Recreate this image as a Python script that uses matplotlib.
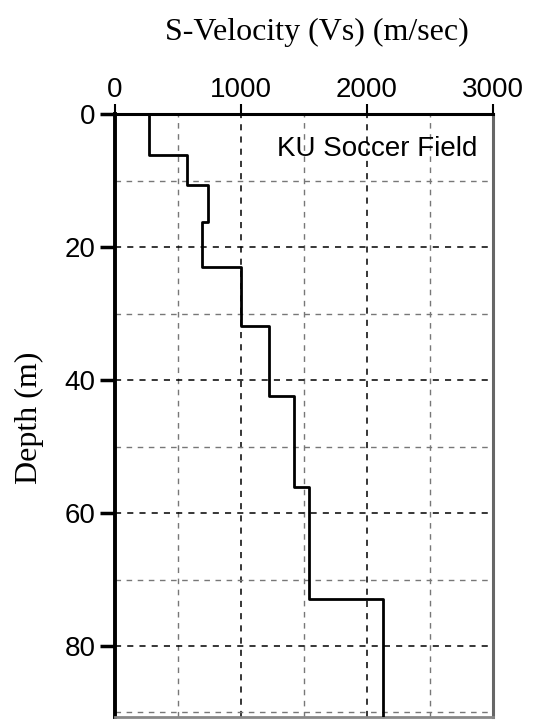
import numpy as np
import matplotlib
matplotlib.use("Agg")
import matplotlib.pyplot as plt
from matplotlib.ticker import MultipleLocator

# layer tops (m) and shear-wave velocity of each layer (m/sec)
layer_top = [0, 6.2, 10.7, 16.2, 23.0, 31.9, 42.4, 56.1, 72.9]
vs = [270, 570, 740, 690, 1000, 1220, 1420, 1540, 2130]
max_depth = 90.7

# step profile built from the layers
depth = []
vel = []
for i, v in enumerate(vs):
    bot = layer_top[i + 1] if i + 1 < len(layer_top) else max_depth
    depth += [layer_top[i], bot]
    vel += [v, v]

fig = plt.figure(figsize=(5.58, 7.2), dpi=100)
ax = fig.add_axes([0.206, 0.004, 0.6775, 0.8375])

ax.plot(vel, depth, color="black", lw=2.0, zorder=3)

ax.set_xlim(0, 3000)
ax.set_ylim(max_depth, 0)
ax.xaxis.tick_top()
ax.xaxis.set_major_locator(MultipleLocator(1000))
ax.xaxis.set_minor_locator(MultipleLocator(500))
ax.yaxis.set_major_locator(MultipleLocator(20))
ax.yaxis.set_minor_locator(MultipleLocator(10))

ax.grid(which="major", color="black", ls=(0, (4, 4)), lw=1.1)
ax.grid(which="minor", color="#777777", ls=(0, (4, 4)), lw=1.0)

ax.tick_params(axis="x", which="major", direction="out", length=7, width=1.5,
               labelsize=20, pad=1)
ax.tick_params(axis="y", which="major", direction="out", length=11, width=2.5,
               labelsize=20, pad=3)
ax.tick_params(which="minor", length=0)
for lab in ax.get_xticklabels() + ax.get_yticklabels():
    lab.set_fontfamily("Liberation Sans")

ax.spines["left"].set_linewidth(2.8)
ax.spines["top"].set_linewidth(2.2)
ax.spines["right"].set_linewidth(2.2)
ax.spines["right"].set_color("#666666")
ax.spines["bottom"].set_linewidth(2.0)
ax.spines["bottom"].set_color("#888888")

fig.text(0.568, 1 - 32 / 720, "S-Velocity (Vs) (m/sec)", family="Liberation Serif",
         fontsize=23, ha="center", va="center")
fig.text(29 / 558, 0.42, "Depth (m)", family="Liberation Serif", fontsize=23,
         rotation=90, ha="center", va="center")

ax.text(0.96, 0.963, "KU Soccer Field", transform=ax.transAxes, ha="right",
        va="top", family="Liberation Sans", fontsize=20)

fig.savefig("out.png", dpi=100)
